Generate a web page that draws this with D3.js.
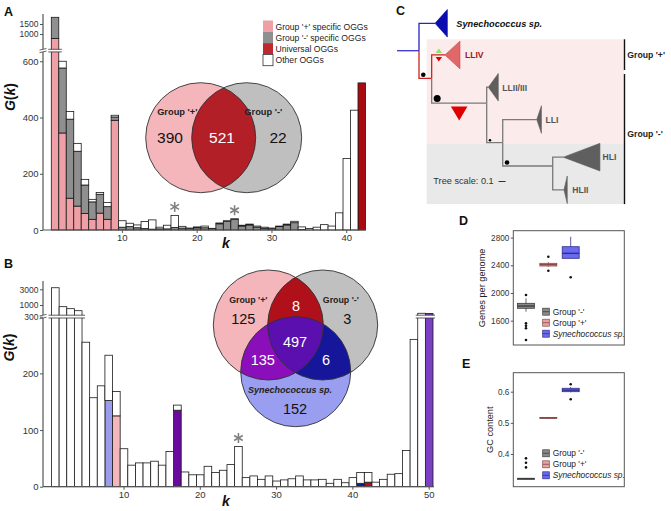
<!DOCTYPE html>
<html><head><meta charset="utf-8">
<script src="https://cdn.jsdelivr.net/npm/d3@7"></script>
<style>body{margin:0;background:#fff}svg{display:block;font-family:"Liberation Sans",Arial,sans-serif}</style>
</head><body><svg id="c" width="671" height="511"></svg>
<script>
// ---------------- DATA ----------------
// Panel A: G(k) for 42 genomes, stacked by OGG class
const kA = d3.range(1, 43);
const plusA  = [900,345,113,85,59,38,60,38,390,0, 0,0,0,0,0,0,0,0,0,0, 0,0,0,0,0,0,0,0,0,0, 0,0,0,0,0,0,0,0,0,0, 0,0];
const minusA = [935,231,281,195,101,62,67,45,12,10, 12,8,5,3,4,4,9,7,5,8, 8,5,22,31,38,14,18,10,6,5, 12,18,26,2,0,0,0,0,0,0, 0,0];
const univA  = [0,0,0,0,0,0,0,0,0,0, 0,0,0,0,0,0,0,0,0,0, 0,0,0,0,0,0,0,0,0,0, 0,0,0,0,0,0,0,0,0,0, 0,523];
const otherA = [0,24,27,28,20,9,6,15,6,23, 12,10,25,33,6,13,43,6,2,3, 6,1,3,2,2,3,3,4,4,2, 2,3,5,9,5,10,19,14,61,254, 426,0];
const ticksAy = [0,200,400,600,1000,1500];
const ticksAx = [10,20,30,40];
const starsA = [17,25];
const legendA = ["Group '+' specific OGGs","Group '-' specific OGGs","Universal OGGs","Other OGGs"];
const vennA = {plusOnly:390, both:521, minusOnly:22};

// Panel B: G(k) for 50 genomes
const kB = d3.range(1, 51);
const otherB = [3200,900,780,660,255,157,178,80,43,67, 38,42,42,45,38,62,9,26,21,21, 36,25,29,39,71,16,19,13,19,10, 12,14,19,12,12,13,6,13,7,16, 19,17,8,13,22,23,64,260,505,0];
const synOnlyB   = [[8,152]];
const plusOnlyB  = [[9,125]];
const plusSynB   = [[17,135]];
const minusSynB  = [[41,6]];
const plusMinusB = [[42,8]];
const allB       = [[50,497]];
const ticksBy = [0,100,200,300,1000,3000];
const ticksBx = [10,20,30,40,50];
const starsB = [25];
const vennB = {plusOnly:125, minusOnly:3, synOnly:152, plusMinus:8, plusSyn:135, minusSyn:6, all:497};

// Panel D / E boxplots  [whiskerLow, q1, median, q3, whiskerHigh]
const groups = ["Group '-'","Group '+'","Synechococcus sp."];
const genesBox = [[1730,1779,1812,1851,1923],[2375,2390,2410,2429,2445],[2501,2501,2573,2669,2813]];
const genesOut = [[1971,1562,1528,1490,1321],[2524,2322],[2227]];
const gcBox = [[0.3185,0.3195,0.3208,0.322,0.323],[0.514,0.515,0.5164,0.5175,0.519],[0.598,0.600,0.605,0.611,0.615]];
const gcOut = [[0.386,0.372,0.357],[],[0.624,0.576]];
const ticksD = [1600,2000,2400,2800];
const ticksE = [0.4,0.5,0.6];

// Panel C tree: branch lengths (tree units) and vertical rank
const tree = [
  {id:"root", parent:null, len:0, y:0.823},
  {id:"syn", parent:"root", len:0.229, y:0, clade:0.176, label:"Synechococcus sp.", col:"#2626c4", tri:"#0b0bb0", lab:"#111", it:true, dx:9},
  {id:"pro", parent:"root", len:0.181, y:1.652, col:"#cc2222", boot:2.3},
  {id:"LLIV", parent:"pro", len:0.19, y:0.95, clade:0.214, label:"LLIV", col:"#cc2222", tri:"#e06868", lab:"#a3141c", dx:5},
  {id:"n2", parent:"pro", len:0.786, y:2.40, col:"#7a7a7a", boot:3.5},
  {id:"LLII", parent:"n2", len:0.023, y:1.92, clade:0.143, label:"LLII/III", col:"#7a7a7a", tri:"#5f5f5f", lab:"#555", dx:4},
  {id:"n3", parent:"n2", len:0.229, y:3.586, col:"#7a7a7a", boot:1.3},
  {id:"LLI", parent:"n3", len:0.486, y:2.89, clade:0.067, label:"LLI", col:"#7a7a7a", tri:"#5f5f5f", lab:"#555", dx:4},
  {id:"n4", parent:"n3", len:0.714, y:4.285, col:"#7a7a7a", boot:2.3},
  {id:"HLI", parent:"n4", len:0.151, y:4.02, clade:0.524, label:"HLI", col:"#7a7a7a", tri:"#5f5f5f", lab:"#555", dx:2.5},
  {id:"HLII", parent:"n4", len:0.161, y:5.0, clade:0.047, label:"HLII", col:"#7a7a7a", tri:"#5f5f5f", lab:"#555", dx:5}
];

// ---------------- DRAW ----------------
const svg = d3.select("#c");
const txtCol = "#333";
const FF = '"Liberation Sans",Arial,sans-serif';

function letter(t,x,y){svg.append("text").attr("x",x).attr("y",y).attr("font-size",12.5).attr("font-weight","bold").attr("fill","#111").text(t);}
function star(g,cx,cy){
  const r=5;
  [90,30,-30].forEach(a=>{const rad=a*Math.PI/180;
    g.append("line").attr("x1",cx-r*Math.cos(rad)).attr("y1",cy-r*Math.sin(rad)).attr("x2",cx+r*Math.cos(rad)).attr("y2",cy+r*Math.sin(rad)).attr("stroke","#808080").attr("stroke-width",1.6);});
}
function italicLabel(x,y,rot){
  const t=svg.append("text").attr("font-size",14).attr("font-weight","bold").attr("text-anchor","middle").attr("fill","#111")
    .attr("transform",`translate(${x},${y}) rotate(${rot})`);
  t.append("tspan").attr("font-style","italic").text("G");
  t.append("tspan").text("(");
  t.append("tspan").attr("font-style","italic").text("k");
  t.append("tspan").text(")");
}
function kLabel(x,y){svg.append("text").attr("x",x).attr("y",y).attr("font-size",14).attr("font-weight","bold").attr("font-style","italic").attr("text-anchor","middle").attr("fill","#111").text("k");}

// ===== Panel A =====
const colA = {plus:"#ef9fa6", minus:"#8f8f8f", univ:"#a80a0f", other:"#ffffff"};
const xA = d3.scaleBand().domain(kA).range([51.3, 51.3+42*7.48]).padding(0);
const yA = d3.scaleLinear().domain([0,640,1000,1500,2000]).range([230,50,34,24,14]);
const rowsA = kA.map((k,i)=>({k, plus:plusA[i], minus:minusA[i], univ:univA[i], other:otherA[i]}));
const stackA = d3.stack().keys(["plus","minus","univ","other"])(rowsA);
const gA = svg.append("g");
stackA.forEach(s=>{
  gA.append("g").selectAll("rect").data(s.filter(d=>d[1]-d[0]>0)).join("rect")
    .attr("x",d=>xA(d.data.k)).attr("width",xA.bandwidth())
    .attr("y",d=>yA(d[1])).attr("height",d=>yA(d[0])-yA(d[1]))
    .attr("fill",colA[s.key]).attr("stroke","#1a1a1a").attr("stroke-width",0.8);
});
gA.append("rect").attr("x",xA(1)-3).attr("y",49.3).attr("width",xA.bandwidth()+6).attr("height",2.6).attr("fill","#fff");
[49.3,51.9].forEach(y=>gA.append("line").attr("x1",xA(1)-3).attr("x2",xA(1)+xA.bandwidth()+3).attr("y1",y).attr("y2",y).attr("stroke","#333").attr("stroke-width",0.8));
const axA = svg.append("g");
axA.append("line").attr("x1",43).attr("x2",43).attr("y1",14).attr("y2",230).attr("stroke","#555").attr("stroke-width",1.2);
axA.append("line").attr("x1",43).attr("x2",366).attr("y1",230).attr("y2",230).attr("stroke","#555").attr("stroke-width",1.2);
axA.append("rect").attr("x",40).attr("y",49.3).attr("width",6).attr("height",2.6).attr("fill","#fff");
[49.3,51.9].forEach(y=>axA.append("line").attr("x1",39.5).attr("x2",46.5).attr("y1",y+0.8).attr("y2",y-0.8).attr("stroke","#555").attr("stroke-width",0.9));
const ga = svg.append("g").attr("transform","translate(43,0)").call(d3.axisLeft(yA).tickValues(ticksAy).tickSize(3).tickPadding(1.5).tickFormat(d3.format("d")));
ga.select(".domain").remove();
ga.selectAll("text").attr("font-size",d=>d>=1000?8.5:9.5).attr("fill",txtCol).attr("font-family",FF);
ga.selectAll("line").attr("stroke","#555");
const gxa = svg.append("g").attr("transform","translate(0,230)").call(d3.axisBottom(xA).tickValues(ticksAx).tickSize(3).tickPadding(1.5));
gxa.select(".domain").remove();
gxa.selectAll("text").attr("font-size",9.5).attr("fill",txtCol).attr("font-family",FF);
gxa.selectAll("line").attr("stroke","#555");
starsA.forEach(k=>{const i=k-1; const top=plusA[i]+minusA[i]+univA[i]+otherA[i]; star(svg, xA(k)+xA.bandwidth()/2, yA(top)-8.5);});
italicLabel(15,97,-90);
kLabel(226,248);
letter("A",4,16);
const legColA=[colA.plus,colA.minus,"#c0282e","#fff"];
legendA.forEach((t,i)=>{
  svg.append("rect").attr("x",263).attr("y",20.5+i*11.3).attr("width",10).attr("height",11.3).attr("fill",legColA[i]).attr("stroke",i==3?"#333":"none").attr("stroke-width",0.8);
  svg.append("text").attr("x",275.5).attr("y",29.5+i*11.3).attr("font-size",8.6).attr("fill","#222").text(t);
});
{
  const g=svg.append("g");
  const L={x:200.7,y:137.7}, R={x:246.7,y:137.7}, r=55;
  const defs=svg.append("defs");
  defs.append("clipPath").attr("id","clipAL").append("circle").attr("cx",L.x).attr("cy",L.y).attr("r",r);
  g.append("circle").attr("cx",L.x).attr("cy",L.y).attr("r",r).attr("fill","#f4b6ba");
  g.append("circle").attr("cx",R.x).attr("cy",R.y).attr("r",r).attr("fill","#bfbfbf");
  g.append("circle").attr("cx",R.x).attr("cy",R.y).attr("r",r).attr("fill","#b21f27").attr("clip-path","url(#clipAL)");
  [L,R].forEach(c=>g.append("circle").attr("cx",c.x).attr("cy",c.y).attr("r",r).attr("fill","none").attr("stroke","#333").attr("stroke-width",0.9));
  const T=(x,y,t,fs,fw,col)=>g.append("text").attr("x",x).attr("y",y).attr("text-anchor","middle").attr("font-size",fs).attr("font-weight",fw).attr("fill",col).text(t);
  T(177.3,115,"Group '+'",9.3,"bold","#222");
  T(263.3,115,"Group '-'",9.3,"bold","#222");
  T(170,142.7,vennA.plusOnly,15.5,"normal","#111");
  T(222,142.7,vennA.both,15.5,"normal","#fff");
  T(278,142.7,vennA.minusOnly,15.5,"normal","#111");
}

// ===== Panel B =====
const xB = d3.scaleBand().domain(kB).range([51.5, 51.5+50*7.63]).padding(0);
const yB = d3.scaleLinear().domain([0,300,1000,3000,3600]).range([486.7,316.7,305,289.3,284.6]);
const colB = {synOnly:"#9a9cf0", plusOnly:"#f4b6ba", plusSyn:"#6b0b9e", minusSyn:"#1a1a90", plusMinus:"#b0101a", all:"#7a40c4", other:"#ffffff"};
const pairs = {synOnly:synOnlyB, plusOnly:plusOnlyB, plusSyn:plusSynB, minusSyn:minusSynB, plusMinus:plusMinusB, all:allB};
const rowsB = kB.map((k,i)=>{const r={k, other:otherB[i]}; Object.keys(pairs).forEach(key=>{const p=pairs[key].find(q=>q[0]===k); r[key]=p?p[1]:0;}); return r;});
const stackB = d3.stack().keys(["synOnly","plusOnly","plusSyn","minusSyn","plusMinus","all","other"])(rowsB);
const gB = svg.append("g");
stackB.forEach(s=>{
  gB.append("g").selectAll("rect").data(s.filter(d=>d[1]-d[0]>0)).join("rect")
    .attr("x",d=>xB(d.data.k)).attr("width",xB.bandwidth())
    .attr("y",d=>yB(d[1])).attr("height",d=>yB(d[0])-yB(d[1]))
    .attr("fill",colB[s.key]).attr("stroke","#1a1a1a").attr("stroke-width",0.8);
});
const brB=[[xB(1)-3, xB(4)+xB.bandwidth()+3],[xB(49)-2, xB(50)+xB.bandwidth()+2]];
brB.forEach(([a,b])=>{
  gB.append("rect").attr("x",a).attr("y",315.2).attr("width",b-a).attr("height",2.8).attr("fill","#fff");
  [315.2,318].forEach(y=>gB.append("line").attr("x1",a).attr("x2",b).attr("y1",y).attr("y2",y).attr("stroke","#333").attr("stroke-width",0.8));
});
const axB = svg.append("g");
axB.append("line").attr("x1",43).attr("x2",43).attr("y1",281).attr("y2",486.7).attr("stroke","#555").attr("stroke-width",1.2);
axB.append("line").attr("x1",43).attr("x2",434).attr("y1",486.7).attr("y2",486.7).attr("stroke","#555").attr("stroke-width",1.2);
axB.append("rect").attr("x",40).attr("y",315.2).attr("width",6).attr("height",2.8).attr("fill","#fff");
[315.2,318].forEach(y=>axB.append("line").attr("x1",39.5).attr("x2",46.5).attr("y1",y+0.8).attr("y2",y-0.8).attr("stroke","#555").attr("stroke-width",0.9));
const gb = svg.append("g").attr("transform","translate(43,0)").call(d3.axisLeft(yB).tickValues(ticksBy).tickSize(3).tickPadding(1.5).tickFormat(d3.format("d")));
gb.select(".domain").remove();
gb.selectAll("text").attr("font-size",d=>d>=300?8.5:9.5).attr("fill",txtCol).attr("font-family",FF);
gb.selectAll("line").attr("stroke","#555");
const gxb = svg.append("g").attr("transform","translate(0,486.7)").call(d3.axisBottom(xB).tickValues(ticksBx).tickSize(3).tickPadding(1.5));
gxb.select(".domain").remove();
gxb.selectAll("text").attr("font-size",9.5).attr("fill",txtCol).attr("font-family",FF);
gxb.selectAll("line").attr("stroke","#555");
starsB.forEach(k=>{const r=rowsB[k-1]; const top=r.other+r.synOnly+r.plusOnly+r.plusSyn+r.minusSyn+r.plusMinus+r.all; star(svg, xB(k)+xB.bandwidth()/2, yB(top)-8.5);});
italicLabel(14,347.5,-90);
kLabel(226,506);
letter("B",4,268);
{
  const g=svg.append("g");
  const P={x:268.3,y:325}, M={x:322.7,y:325}, S={x:295.7,y:371.7}, r=55;
  const defs=svg.append("defs");
  defs.append("clipPath").attr("id","cP").append("circle").attr("cx",P.x).attr("cy",P.y).attr("r",r);
  defs.append("clipPath").attr("id","cM").append("circle").attr("cx",M.x).attr("cy",M.y).attr("r",r);
  const C=(c,fill,clip)=>{const e=g.append("circle").attr("cx",c.x).attr("cy",c.y).attr("r",r).attr("fill",fill); if(clip) e.attr("clip-path",`url(#${clip})`); return e;};
  C(P,"#f4b6ba"); C(M,"#c0c0c0"); C(S,"#9a9ef0");
  C(M,"#b0101a","cP");
  C(S,"#8a0fba","cP");
  C(S,"#16169a","cM");
  g.append("g").attr("clip-path","url(#cP)").append("circle").attr("cx",S.x).attr("cy",S.y).attr("r",r).attr("fill","#5a0fae").attr("clip-path","url(#cM)");
  [P,M,S].forEach(c=>g.append("circle").attr("cx",c.x).attr("cy",c.y).attr("r",r).attr("fill","none").attr("stroke","#333").attr("stroke-width",0.9));
  const T=(x,y,t,fs,fw,col,st)=>g.append("text").attr("x",x).attr("y",y).attr("text-anchor","middle").attr("font-size",fs).attr("font-weight",fw).attr("font-style",st||"normal").attr("fill",col).text(t);
  T(248.3,303.3,"Group '+'",8.8,"bold","#222");
  T(340.8,303.3,"Group '-'",8.8,"bold","#222");
  T(243.3,324,vennB.plusOnly,14.5,"normal","#111");
  T(347.3,324,vennB.minusOnly,14.5,"normal","#111");
  T(296,310.7,vennB.plusMinus,14.5,"normal","#fff");
  T(295,347.3,vennB.all,14.5,"normal","#fff");
  T(262.8,365.3,vennB.plusSyn,14.5,"normal","#fff");
  T(326,365.3,vennB.minusSyn,14.5,"normal","#fff");
  T(290,393.3,"Synechococcus sp.",9,"bold","#222","italic");
  T(295,414,vennB.synOnly,14.5,"normal","#111");
}

// ===== Panel C: tree =====
{
  const g=svg.append("g");
  const xT=d3.scaleLinear().domain([0,1]).range([419,489]);
  const yT=d3.scaleLinear().domain([0,5]).range([23.3,189.8]);
  g.append("rect").attr("x",426.7).attr("y",yT(0.48)).attr("width",624-426.7).attr("height",yT(3.625)-yT(0.48)).attr("fill","#fcebeb");
  g.append("rect").attr("x",426.7).attr("y",yT(3.625)).attr("width",624-426.7).attr("height",yT(5.43)-yT(3.625)).attr("fill","#e9e9e9");
  const byId={}; tree.forEach(n=>byId[n.id]=n);
  tree.forEach(n=>{n.d = n.parent? byId[n.parent].d + n.len : 0;});
  g.append("line").attr("x1",xT(-0.314)).attr("x2",xT(0)).attr("y1",yT(byId.root.y)).attr("y2",yT(byId.root.y)).attr("stroke","#3535c8").attr("stroke-width",1.3);
  tree.filter(n=>n.parent).forEach(n=>{
    const p=byId[n.parent];
    g.append("path").attr("d",`M${xT(p.d)},${yT(p.y)}V${yT(n.y)}H${xT(n.d)}`).attr("fill","none").attr("stroke",n.col).attr("stroke-width",1.3);
  });
  tree.filter(n=>n.clade).forEach(n=>{
    const ax=xT(n.d), ay=yT(n.y), bx=xT(n.d+n.clade);
    g.append("path").attr("d",`M${ax},${ay}L${bx},${ay-13.8}L${bx},${ay+13.8}Z`).attr("fill",n.tri).attr("stroke",n.id==="LLIV"?"#c04040":n.tri).attr("stroke-width",0.6);
    g.append("text").attr("x",bx+n.dx).attr("y",ay+3.3).attr("font-size",n.it?9.2:8.6).attr("font-weight","bold").attr("font-style",n.it?"italic":"normal").attr("fill",n.lab).text(n.label);
  });
  tree.filter(n=>n.boot).forEach(n=>{
    const p=byId[n.parent];
    g.append("circle").attr("cx",xT(p.d)+n.boot+2).attr("cy",yT(n.y)-n.boot-1.2).attr("r",n.boot).attr("fill","#000");
  });
  const n2=byId.n2, pro=byId.pro, l4=byId.LLIV;
  const mx=(xT(pro.d)+xT(n2.d))/2, my=yT(n2.y)+10.4;
  g.append("path").attr("d",`M${mx-8.3},${my-7}L${mx+8.3},${my-7}L${mx},${my+7}Z`).attr("fill","#e00000");
  const lx=(xT(pro.d)+xT(l4.d))/2+0.5, ly=yT(l4.y);
  g.append("path").attr("d",`M${lx-3.2},${ly-2}L${lx+3.2},${ly-2}L${lx},${ly-6.5}Z`).attr("fill","#8fe36a");
  g.append("path").attr("d",`M${lx-3.2},${ly+2}L${lx+3.2},${ly+2}L${lx},${ly+6.5}Z`).attr("fill","#dd0000");
  g.append("line").attr("x1",624.5).attr("x2",624.5).attr("y1",yT(0.48)).attr("y2",70).attr("stroke","#111").attr("stroke-width",1.4);
  g.append("line").attr("x1",624.5).attr("x2",624.5).attr("y1",74).attr("y2",yT(5.43)).attr("stroke","#111").attr("stroke-width",1.4);
  g.append("text").attr("x",627.3).attr("y",58.3).attr("font-size",8.7).attr("font-weight","bold").attr("fill","#222").text("Group '+'");
  g.append("text").attr("x",627.3).attr("y",137.3).attr("font-size",8.7).attr("font-weight","bold").attr("fill","#222").text("Group '-'");
  g.append("text").attr("x",433.3).attr("y",184.3).attr("font-size",9.2).attr("fill","#333").text("Tree scale: 0.1");
  g.append("line").attr("x1",xT(1.137)).attr("x2",xT(1.137)+7).attr("y1",181.5).attr("y2",181.5).attr("stroke","#333").attr("stroke-width",1);
  letter("C",396,15);
}

// ===== Panels D & E =====
const colBox=[{f:"#8a8a8a",s:"#3c3c3c"},{f:"#e3a3a3",s:"#8a4848"},{f:"#6a6af0",s:"#30308a"}];
const xBox=d3.scalePoint().domain(groups).range([526,570.7]);
function boxPanel(top,bottom,dom,ticks,box,out,ylab,ylabX,fmt,legY){
  const y=d3.scaleLinear().domain(dom).range([bottom,top]);
  const g=svg.append("g");
  g.append("rect").attr("x",513.3).attr("y",top).attr("width",624.3-513.3).attr("height",bottom-top).attr("fill","#fff").attr("stroke","#555").attr("stroke-width",1);
  const ga=g.append("g").attr("transform","translate(513.3,0)").call(d3.axisLeft(y).tickValues(ticks).tickSize(2.5).tickPadding(1.5).tickFormat(fmt));
  ga.select(".domain").remove();
  ga.selectAll("text").attr("font-size",8.2).attr("fill",txtCol).attr("font-family",FF);
  ga.selectAll("line").attr("stroke","#555");
  const w=17;
  groups.forEach((gr,i)=>{
    const cx=xBox(gr), b=box[i], c=colBox[i];
    g.append("line").attr("x1",cx).attr("x2",cx).attr("y1",y(b[0])).attr("y2",y(b[4])).attr("stroke",c.s).attr("stroke-width",0.8);
    g.append("rect").attr("x",cx-w/2).attr("width",w).attr("y",y(b[3])).attr("height",Math.max(1,y(b[1])-y(b[3]))).attr("fill",c.f).attr("stroke",c.s).attr("stroke-width",0.8);
    g.append("line").attr("x1",cx-w/2).attr("x2",cx+w/2).attr("y1",y(b[2])).attr("y2",y(b[2])).attr("stroke",c.s).attr("stroke-width",1.4);
    g.selectAll(null).data(out[i]).join("circle").attr("cx",cx).attr("cy",d=>y(d)).attr("r",1.3).attr("fill","#111");
  });
  svg.append("text").attr("transform",`translate(${ylabX},${(top+bottom)/2}) rotate(-90)`).attr("text-anchor","middle").attr("font-size",9.2).attr("fill","#222").text(ylab);
  groups.forEach((gr,i)=>{
    const yy=legY+i*11, c=colBox[i];
    g.append("rect").attr("x",542.7).attr("y",yy-3.5).attr("width",6.6).attr("height",7).attr("fill",c.f).attr("stroke",c.s).attr("stroke-width",0.7);
    g.append("line").attr("x1",542.7).attr("x2",549.3).attr("y1",yy).attr("y2",yy).attr("stroke",c.s).attr("stroke-width",0.8);
    g.append("text").attr("x",552.7).attr("y",yy+3).attr("font-size",8.4).attr("font-style",i==2?"italic":"normal").attr("fill","#222").text(gr);
  });
}
boxPanel(230.7,345,[1249,2900],ticksD,genesBox,genesOut,"Genes per genome",484.5,d3.format("d"),311.7);
letter("D",459,225);
boxPanel(372.7,486.7,[0.295,0.661],ticksE,gcBox,gcOut,"GC content",493,d3.format(".1f"),453.3);
letter("E",462,368);
</script></body></html>
